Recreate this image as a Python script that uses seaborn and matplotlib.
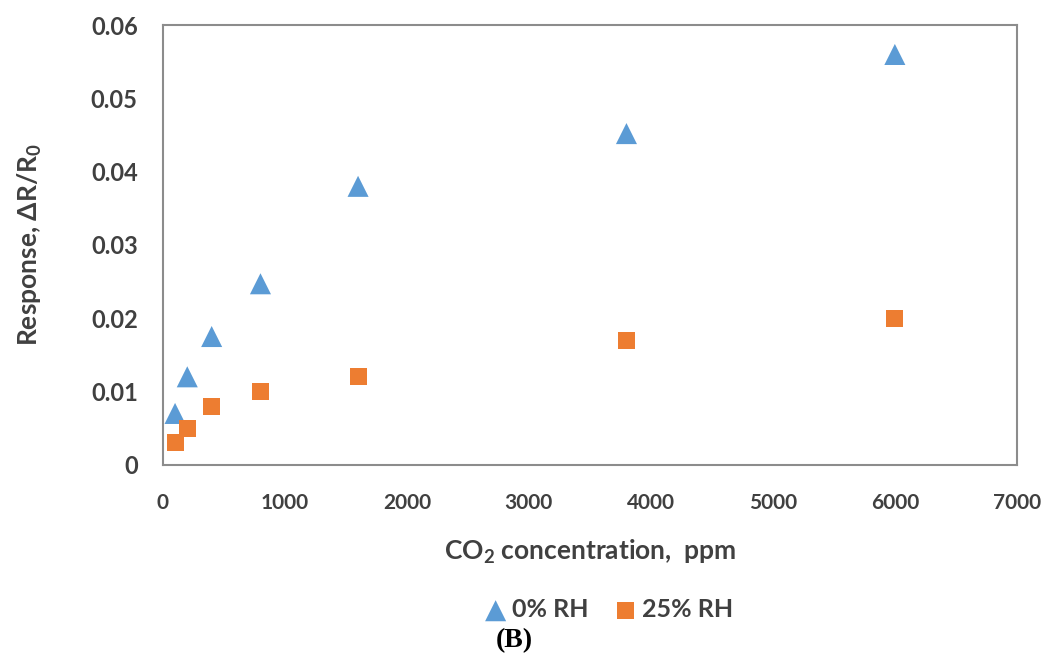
import seaborn as sns
import matplotlib.pyplot as plt
import pandas as pd

# CO2 concentration (ppm) and sensor response
conc = [100, 200, 400, 800, 1600, 3800, 6000]
resp_0rh = [0.007, 0.012, 0.0175, 0.0247, 0.038, 0.0452, 0.056]
resp_25rh = [0.003, 0.005, 0.008, 0.010, 0.012, 0.017, 0.020]

x_ticks = [0, 1000, 2000, 3000, 4000, 5000, 6000, 7000]
y_ticks = [0, 0.01, 0.02, 0.03, 0.04, 0.05, 0.06]
y_tick_labels = ['0', '0.01', '0.02', '0.03', '0.04', '0.05', '0.06']

df = pd.DataFrame({
    'conc': conc * 2,
    'resp': resp_0rh + resp_25rh,
    'series': ['0% RH'] * len(conc) + ['25% RH'] * len(conc),
})

sns.set_style('white')
plt.rcParams['font.family'] = ['Lato', 'DejaVu Sans']
plt.rcParams['mathtext.fontset'] = 'custom'
plt.rcParams['mathtext.rm'] = 'Lato:bold'
plt.rcParams['mathtext.default'] = 'rm'
text_color = '#404040'

fig = plt.figure(figsize=(10.44, 6.62), dpi=100)
ax = fig.add_axes([0.156, 0.298, 0.818, 0.664])

sns.scatterplot(data=df[df.series == '0% RH'], x='conc', y='resp',
                marker='^', s=230, color='#5B9BD5', edgecolor='none',
                label='0% RH', ax=ax)
sns.scatterplot(data=df[df.series == '25% RH'], x='conc', y='resp',
                marker='s', s=150, color='#ED7D31', edgecolor='none',
                label='25% RH', ax=ax)

ax.set_xlim(0, 7000)
ax.set_ylim(0, 0.06)
ax.set_xticks(x_ticks)
ax.set_xticklabels([str(t) for t in x_ticks])
ax.set_yticks(y_ticks)
ax.set_yticklabels(y_tick_labels)
ax.tick_params(axis='y', length=0, labelsize=17, labelcolor=text_color, pad=18)
ax.tick_params(axis='x', length=0, labelsize=15, labelcolor=text_color, pad=20)
for lab in ax.get_xticklabels() + ax.get_yticklabels():
    lab.set_fontweight('bold')

for sp in ax.spines.values():
    sp.set_color('#8c8c8c')
    sp.set_linewidth(1.5)

ax.set_xlabel('CO$_2$ concentration,  ppm', fontsize=19, fontweight='bold',
              color=text_color, labelpad=18)
ax.set_ylabel('Response, ΔR/R$_0$', fontsize=19, fontweight='bold',
              color=text_color, labelpad=34)

leg = ax.legend(loc='center', bbox_to_anchor=(0.52, -0.33), ncol=2,
                frameon=False, fontsize=18, handletextpad=0.05,
                columnspacing=0.9, handlelength=1.2)
for t in leg.get_texts():
    t.set_fontweight('bold')
    t.set_color(text_color)

fig.text(0.493, 0.033, '(B)', ha='center', va='center', fontsize=20,
         fontweight='bold', family='Liberation Serif', color='black')

fig.savefig('out.png', dpi=100)
